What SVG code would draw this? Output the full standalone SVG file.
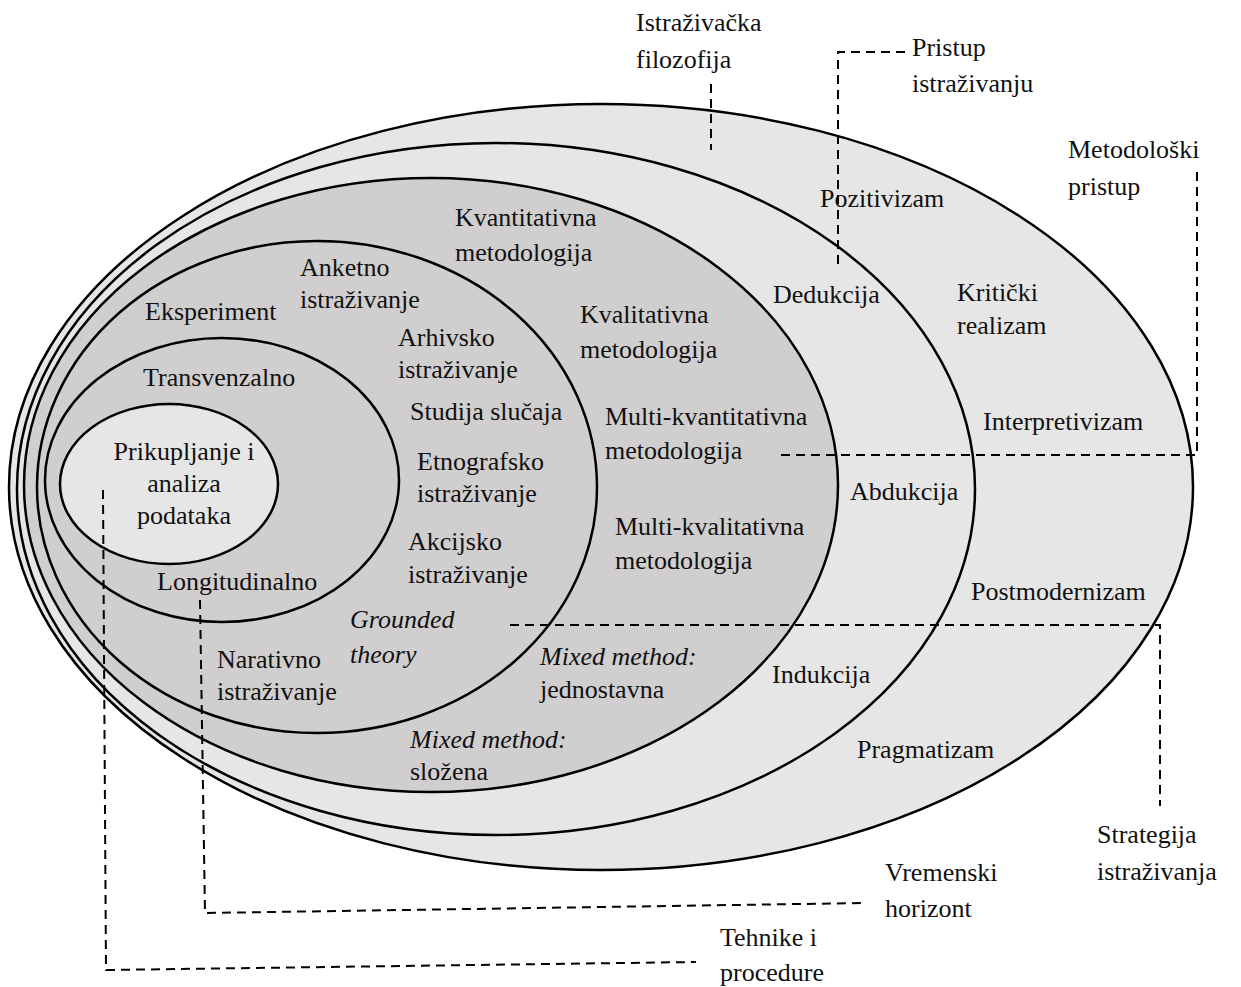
<svg xmlns="http://www.w3.org/2000/svg" width="1241" height="987" viewBox="0 0 1241 987">
<style>
.ring{stroke:#000;stroke-width:2.5}
.light{fill:#e7e6e6}
.dark{fill:#d0cece}
text{font-family:"Liberation Serif","Times New Roman",serif;font-size:26px;fill:#111}
.it{font-style:italic}
.dash{fill:none;stroke:#000;stroke-width:2;stroke-dasharray:9 6}
</style>
<rect width="1241" height="987" fill="#fff"/>
<g id="filozofija">
<ellipse class="ring light" cx="601" cy="487" rx="592" ry="383"/>
</g>
<g id="pristup">
<ellipse class="ring light" cx="496" cy="489" rx="479" ry="346"/>
</g>
<g id="metodoloski">
<ellipse class="ring dark" cx="431" cy="485" rx="407" ry="307"/>
</g>
<g id="strategija">
<ellipse class="ring dark" cx="317" cy="487" rx="280" ry="246"/>
</g>
<g id="vremenski">
<ellipse class="ring dark" cx="222" cy="480" rx="177" ry="142"/>
</g>
<g id="tehnike">
<ellipse class="ring light" cx="169" cy="484" rx="109" ry="80"/>
</g>
<g id="connectors">
<path class="dash" d="M711,84 V150"/>
<path class="dash" d="M905,52 H838 V270"/>
<path class="dash" d="M1197,172 V455 H778"/>
<path class="dash" d="M510,625 H1160 V806"/>
<path class="dash" d="M200,600 L205,913 L866,903"/>
<path class="dash" d="M103,490 L106,970 L696,962"/>
</g>
<g id="labels">
<text x="636" y="31">Istraživačka</text>
<text x="636" y="68">filozofija</text>
<text x="912" y="56">Pristup</text>
<text x="912" y="92">istraživanju</text>
<text x="1068" y="158">Metodološki</text>
<text x="1068" y="195">pristup</text>
<text x="1097" y="843">Strategija</text>
<text x="1097" y="880">istraživanja</text>
<text x="885" y="881">Vremenski</text>
<text x="885" y="917">horizont</text>
<text x="720" y="946">Tehnike i</text>
<text x="720" y="981">procedure</text>
</g>
<g id="ring-filozofija-text">
<text x="820" y="207">Pozitivizam</text>
<text x="957" y="301">Kritički</text>
<text x="957" y="334">realizam</text>
<text x="983" y="430">Interpretivizam</text>
<text x="971" y="600">Postmodernizam</text>
<text x="857" y="758">Pragmatizam</text>
</g>
<g id="ring-pristup-text">
<text x="773" y="303">Dedukcija</text>
<text x="850" y="500">Abdukcija</text>
<text x="772" y="683">Indukcija</text>
</g>
<g id="ring-metodoloski-text">
<text x="455" y="226">Kvantitativna</text>
<text x="455" y="261">metodologija</text>
<text x="580" y="323">Kvalitativna</text>
<text x="580" y="358">metodologija</text>
<text x="605" y="425">Multi-kvantitativna</text>
<text x="605" y="459">metodologija</text>
<text x="615" y="535">Multi-kvalitativna</text>
<text x="615" y="569">metodologija</text>
<text class="it" x="540" y="665">Mixed method:</text>
<text x="540" y="698">jednostavna</text>
<text class="it" x="410" y="748">Mixed method:</text>
<text x="410" y="780">složena</text>
</g>
<g id="ring-strategija-text">
<text x="145" y="320">Eksperiment</text>
<text x="300" y="276">Anketno</text>
<text x="300" y="308">istraživanje</text>
<text x="398" y="346">Arhivsko</text>
<text x="398" y="378">istraživanje</text>
<text x="410" y="420">Studija slučaja</text>
<text x="417" y="470">Etnografsko</text>
<text x="417" y="502">istraživanje</text>
<text x="408" y="550">Akcijsko</text>
<text x="408" y="583">istraživanje</text>
<text class="it" x="350" y="628">Grounded</text>
<text class="it" x="350" y="663">theory</text>
<text x="217" y="668">Narativno</text>
<text x="217" y="700">istraživanje</text>
</g>
<g id="ring-vremenski-text">
<text x="143" y="386">Transvenzalno</text>
<text x="157" y="590">Longitudinalno</text>
</g>
<g id="ring-tehnike-text">
<text x="184" y="460" text-anchor="middle">Prikupljanje i</text>
<text x="184" y="492" text-anchor="middle">analiza</text>
<text x="184" y="524" text-anchor="middle">podataka</text>
</g>
</svg>
